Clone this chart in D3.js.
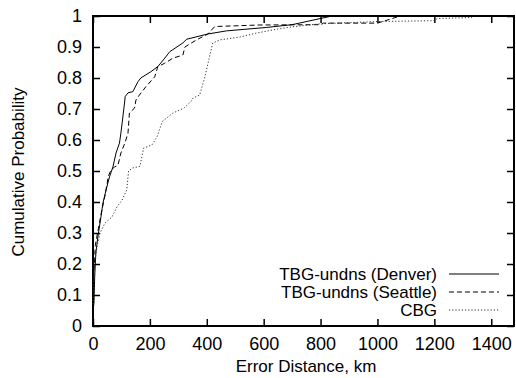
<!DOCTYPE html>
<html>
<head>
<meta charset="utf-8">
<script src="https://cdn.jsdelivr.net/npm/d3@7"></script>
<style>
  body { margin: 0; background: #fff; }
  text { font-family: "Liberation Sans", Arial, Helvetica, sans-serif; fill: #000; }
</style>
</head>
<body>
<div id="chart"></div>
<script>
// CDF points: [error km, cumulative probability]
const denver = [[0,0.05],[3.5,0.074],[6,0.16],[10,0.235],[17,0.287],[28,0.352],[35,0.397],[46,0.439],
  [58,0.481],[70,0.513],[81,0.558],[93,0.59],[98,0.622],[105,0.674],[112,0.729],[113,0.74],[123,0.752],
  [140,0.756],[158,0.788],[168,0.80],[203,0.82],[228,0.837],[247,0.858],[270,0.885],[316,0.913],
  [329,0.925],[404,0.942],[469,0.952],[609,0.963],[700,0.972],[840,1.0]];
const seattle = [[0,0.05],[3,0.16],[8,0.26],[29,0.364],[41,0.416],[50,0.461],[53,0.481],[63,0.503],
  [76,0.513],[88,0.519],[98,0.558],[112,0.59],[123,0.622],[128,0.687],[146,0.703],[151,0.729],
  [163,0.745],[186,0.772],[217,0.804],[228,0.837],[251,0.847],[281,0.864],[316,0.874],[323,0.9],
  [364,0.923],[404,0.942],[428,0.966],[586,0.971],[800,0.972],[810,0.977],[1000,0.977],[1080,1.0]];
const cbg = [[0,0.07],[5,0.2],[14,0.255],[25,0.30],[42,0.332],[67,0.352],[84,0.384],[102,0.406],
  [119,0.44],[125,0.5],[140,0.51],[165,0.515],[178,0.574],[207,0.584],[225,0.61],[244,0.66],
  [281,0.687],[320,0.703],[345,0.725],[351,0.735],[375,0.745],[393,0.803],[421,0.913],[446,0.923],
  [516,0.932],[575,0.945],[650,0.958],[700,0.965],[800,0.975],[1000,0.982],[1200,0.985],
  [1210,0.992],[1330,0.995],[1340,1.0]];
const seriesNames = ["TBG-undns (Denver)", "TBG-undns (Seattle)", "CBG"];
const xTicks = [0,200,400,600,800,1000,1200,1400];
const yTicks = [0,0.1,0.2,0.3,0.4,0.5,0.6,0.7,0.8,0.9,1];

const W = 516, H = 378;
const m = {left: 93, right: 2, top: 16, bottom: 52};
const svg = d3.select('#chart').append('svg').attr('width', W).attr('height', H);

const x = d3.scaleLinear().domain([0,1480]).range([m.left, W-m.right]);
const y = d3.scaleLinear().domain([0,1]).range([H-m.bottom, m.top]);

const fmt = d => String(d);
const tl = 7;
const fs = 18;

// axes (ticks inward, mirrored)
svg.append('g').attr('transform', `translate(0,${y(0)})`)
  .call(d3.axisBottom(x).tickValues(xTicks).tickSize(-tl).tickPadding(11).tickFormat(fmt))
  .call(g => { g.select('.domain').remove(); g.selectAll('text').attr('dy', '0.71em').style('font-size', fs+'px'); g.selectAll('line').attr('stroke-width', 1.5); });
svg.append('g').attr('transform', `translate(0,${y(1)})`)
  .call(d3.axisTop(x).tickValues(xTicks).tickSize(-tl).tickFormat(''))
  .call(g => { g.select('.domain').remove(); g.selectAll('line').attr('stroke-width', 1.5); });
svg.append('g').attr('transform', `translate(${x(0)},0)`)
  .call(d3.axisLeft(y).tickValues(yTicks).tickSize(-tl).tickPadding(11).tickFormat(fmt))
  .call(g => { g.select('.domain').remove(); g.selectAll('text').style('font-size', fs+'px'); g.selectAll('line').attr('stroke-width', 1.5); });
svg.append('g').attr('transform', `translate(${W-m.right},0)`)
  .call(d3.axisRight(y).tickValues(yTicks).tickSize(-tl).tickFormat(''))
  .call(g => { g.select('.domain').remove(); g.selectAll('line').attr('stroke-width', 1.5); });

svg.selectAll('.tick text').attr('font-family', null);

// frame
svg.append('rect')
  .attr('x', x(0)).attr('y', y(1))
  .attr('width', x.range()[1]-x(0)).attr('height', y(0)-y(1))
  .attr('fill', 'none').attr('stroke', '#000').attr('stroke-width', 2);

const line = d3.line().x(d => x(d[0])).y(d => y(d[1]));
const styles = [
  {data: denver, dash: null, color: '#000'},
  {data: seattle, dash: '5,3', color: '#000'},
  {data: cbg, dash: '1.2,2', color: '#333'}
];
svg.append('g').selectAll('path').data(styles).join('path')
  .attr('d', d => line(d.data))
  .attr('fill', 'none').attr('stroke', d => d.color).attr('stroke-width', 1)
  .attr('stroke-dasharray', d => d.dash);

// legend
const lg = svg.append('g');
seriesNames.forEach((name, i) => {
  const ly = 274 + i*18;
  lg.append('text').attr('x', 437).attr('y', ly).attr('dy', '0.35em')
    .attr('text-anchor', 'end').style('font-size', '17px').text(name);
  lg.append('line').attr('x1', 449).attr('x2', 499).attr('y1', ly).attr('y2', ly)
    .attr('stroke', styles[i].color).attr('stroke-width', 1)
    .attr('stroke-dasharray', styles[i].dash);
});

// axis titles
svg.append('text').attr('x', 306).attr('y', 372).attr('text-anchor', 'middle')
  .style('font-size', '17px').text('Error Distance, km');
svg.append('text').attr('transform', 'translate(24,172) rotate(-90)').attr('text-anchor', 'middle')
  .style('font-size', '17px').text('Cumulative Probability');
</script>
</body>
</html>
